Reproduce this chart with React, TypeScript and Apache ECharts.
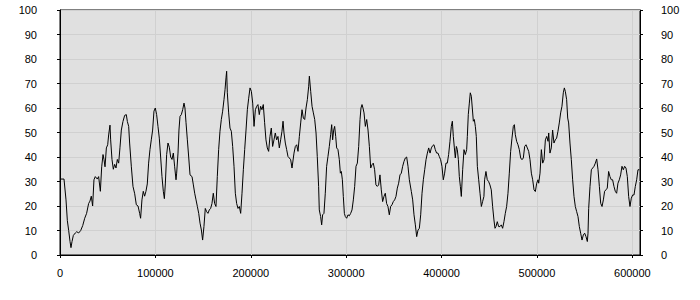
import React, { useEffect, useRef } from "react";
import * as echarts from "echarts";

// Sample positions (x) and values (y)
const xs: number[] = [
  0, 4200, 6300, 7700, 9100, 10500, 11500, 12600, 14000, 16100, 17500, 19600, 21700, 23800, 25900, 27900,
  30000, 31400, 32800, 34200, 35600, 37000, 39100, 40500, 42300, 43700, 45100, 46100, 47200, 48600, 50000,
  51000, 52400, 53100, 54500, 55900, 57300, 58700, 60100, 61500, 62900, 64300, 66000, 67800, 69500, 70600,
  72000, 73000, 74800, 76500, 78300, 80000, 81800, 83500, 84500, 85900, 87300, 88700, 90100, 91500, 92900,
  94300, 95700, 97100, 98500, 99900, 101300, 102700, 104100, 105500, 106900, 108300, 109400, 110400, 111800,
  113200, 114600, 116000, 117400, 118800, 120200, 121600,
  122300, 123700, 124700, 125800, 127200, 128600, 130000, 131000, 132100, 133500, 134900, 136300, 138400,
  139800, 141200, 142600, 144000, 145400, 146800, 148200, 149500, 150900, 152300, 153700, 155100, 156500,
  157900, 159300, 160700, 162100, 163500, 164900, 166300, 167700, 169100, 170500, 171900, 173000, 174000,
  174700, 175400, 176800, 178200, 179600, 181000, 182400, 183800, 185200, 186600, 188000, 189400, 190800,
  192200, 193600, 195000, 196400, 197800, 199200, 200600, 202000, 203400, 204800, 206200, 207500, 208900,
  210300, 211700, 213100, 214500, 215900, 217300, 218700, 220100, 221500, 222900, 224300, 225700, 227100,
  228500, 229900, 231300, 232700, 233800, 234800, 236200, 237600, 239000, 240400, 241800, 243200,
  245300, 246700, 248100, 249500, 250900, 252300, 253700, 255100, 256500, 257900, 259300, 260700, 261400,
  262800, 264200, 265600, 267000, 268400, 269700, 271100, 271800, 273200, 274300, 275300, 276700, 278100,
  279500, 280900, 282300, 283700, 284800, 285800, 286900, 287900, 289000, 290000, 291400, 292800, 293900,
  294900, 296000, 297000, 298100, 299100, 300500, 301900, 303300, 304700, 306100, 307500, 308900, 310300,
  311700, 313100, 314500, 315500, 316600, 317600, 318700, 320100, 321500, 322900, 324300, 325700, 327000,
  328400, 329800, 331200, 332600, 334000, 335400, 336800, 338200, 339600, 341000, 342400, 343800, 345200,
  346600, 348000, 349400, 350800, 352200, 353600, 355000, 356400, 357800, 359200, 360600, 362000, 363400,
  364800, 366200,
  368300, 369700, 371100, 372500, 373900, 375300, 376700, 378100, 379500, 380900, 382300, 383700, 385100,
  386500, 387900, 389300, 390600, 392000, 393400, 394800, 396200, 397600, 399000, 400400, 401800, 403200,
  404600, 406000, 407400, 408800, 410200, 411300, 412300, 413400, 414400, 415500, 416500, 417600, 418600,
  419700, 420700, 422100, 423500, 424900, 426300, 427000, 428000, 429100, 430100, 431200, 432200, 433300,
  434300, 435400, 436400, 437500, 438900, 440300, 441700, 443000, 444400, 445100, 446500, 447900, 449300,
  450700, 452100, 453500, 454900, 456000, 457000, 458400, 459800, 461200, 462600, 464000, 465400, 466800,
  468200, 469600, 471000, 472400, 473800, 475200, 476300, 477300, 478700, 480100, 481500, 482900, 484300,
  485700, 487100, 488500,
  489900, 491300, 492700, 494100, 495500, 496900, 498300, 499700, 501100, 501800, 503200, 504600, 506000,
  507400, 508800, 510200, 511600, 512300, 513600, 515000, 516400, 517800, 519200, 520600, 522000, 523400,
  524800, 526200, 527600, 528700, 529700, 531100, 532200, 533200, 534600, 536000, 537400, 538800, 540200,
  541600, 543000, 544400, 545800, 547200, 548600, 550000, 551400, 552800, 553500, 554200, 555600, 557000,
  558400, 559800, 561200, 562600, 564000, 565400, 566800, 568200, 569600, 570900, 572300, 573700, 575100,
  576500, 577900, 579300, 580700, 582100, 583500, 584900, 586300, 587700, 589100, 590500, 591900, 593300,
  594700, 596100, 597500, 598900, 600300, 601700, 603100, 604500, 605900, 607300,
];

const ys: number[] = [
  31, 31, 22.5, 14, 10, 5.5, 3, 5.5, 8, 9, 9.5, 9, 10, 12, 15, 17,
  21, 22, 24, 20, 30.7, 32, 31, 32, 26, 36, 41, 39, 36, 43.7, 45,
  49, 53, 47, 39, 35, 37, 35.5, 39, 37.5, 44, 51, 54.5, 57, 57.3, 54.5,
  52.5, 45.7, 36, 28, 25, 20.5, 20, 17, 15, 22.5, 26, 24, 26, 29, 37.5,
  43, 47, 51, 58.7, 60, 57.3, 52.5, 47.7, 40, 32, 26, 23, 29, 41,
  45.7, 44, 40, 39, 41.6, 36, 30.7,
  33.4, 41.6, 51, 56.6, 57.3, 59.3, 62, 60, 54, 47, 40, 32.7, 32,
  28.6, 25.2, 22.5, 19.8, 17, 13, 10.2, 6.1, 11.6, 19, 17.7, 17, 18.4,
  19, 21, 25.2, 21, 19.8, 32, 43, 50.5, 55.3, 58.7, 63.4, 67.5, 72.3,
  75, 66.2, 58, 51.8, 50.5, 44.3, 36.2, 25.2, 21, 19, 19.8, 17, 25.2,
  34.8, 43, 51, 59.3, 64, 68.2, 66.8, 62, 52.5, 59.3, 60.7, 61.4, 57.3,
  60.7, 59.3, 61.4, 54, 47, 43.7, 42.3, 48.4, 51.8, 44.3, 47, 49.8, 47,
  48.4, 43.7, 47, 50.5, 54.6, 49.8, 45.7, 43, 40.2, 39.6, 38.9, 35.5,
  41.6, 44.3, 45, 42.3, 48.4, 53.9, 59.3, 55.9, 55.3, 60, 63.4, 68.9, 73,
  66.8, 60.7, 58, 55.3, 49.8, 40.2, 28, 18.4, 15.7, 12.3, 16.4, 17, 25.2,
  36.2, 40.2, 44.3, 49.1, 53.2, 47, 51, 52.5, 48.4, 43.7, 43, 38.9, 33.4,
  34.1, 30.7, 23.9, 17, 15.7, 15, 16.4, 16, 17, 18.4, 22.5, 28, 36.2,
  37.5, 44.3, 55.3, 60, 61.4, 60, 58, 52.5, 55.3, 51, 44.3, 35.5, 36.8,
  37.5, 34.8, 28.6, 28, 28.6, 32.7, 26.6, 21.8, 23.9, 25.2, 21, 19.8, 16.4,
  19.8, 20.5, 21.8, 22.5, 23.9, 27.3, 29.3, 32.7, 33.4, 36.2, 38.2, 39.6, 40,
  36.2, 30.7,
  25.9, 22.5, 16.4, 12.3, 7.5, 10.2, 10.9, 16.4, 25.2, 30.7, 34.8, 38.9, 41.6,
  43.7, 41.6, 43.7, 44.6, 45, 43, 41.6, 41.6, 40.2, 38.9, 36.2, 30.7, 33.4,
  37.5, 37.5, 41, 46.4, 52.5, 54.6, 48.4, 43.7, 39.6, 44.3, 43, 38.9, 32,
  28, 23.9, 34.8, 43, 41, 43, 48.4, 57.3, 62, 66.2, 64.8, 60, 54.6,
  55.3, 52.5, 48.4, 36.2, 30.7, 25.2, 19.8, 21.8, 23.9, 30.7, 34.1, 30.7, 30,
  28.6, 26.6, 19.8, 14.3, 10.9, 11.6, 13.6, 11.6, 11.6, 12.3, 10.9, 13.6, 17,
  19.8, 25.2, 33.4, 42.3, 47.7, 52.5, 53.2, 49.1, 46.4, 45, 43, 39.6, 38.9,
  39.6, 44.3, 45,
  43.7, 42.3, 38.9, 33.4, 30.7, 26.6, 25.9, 29.3, 30.7, 29.3, 33.4, 43, 37.5,
  38.9, 47, 48.4, 46.4, 49.8, 41.6, 43.7, 51, 45.7, 47, 47.7, 50.5, 53.9,
  58, 60.7, 66.2, 68.2, 66.8, 63.4, 55.9, 53.9, 45.7, 38.9, 30.7, 23.9, 19.8,
  17.7, 15.7, 11.6, 8.9, 6.1, 8.2, 8.9, 7.5, 5.5, 8.9, 19, 28, 34.8,
  35.5, 36.2, 37.5, 39.2, 34.8, 28, 21.1, 19.8, 22.5, 26, 26.6, 27.3, 34.1,
  32, 30.7, 30.7, 28, 26, 25.2, 29.3, 30.7, 32.7, 36.2, 34.8, 36.2, 35.5,
  32, 23.9, 19.8, 23.2, 24.5, 24.5, 28, 30.7, 34.8, 34.8,
];

const xMax = 608000;
const xInterval = 100000;
const yTicks = { min: 0, max: 100, interval: 10 };

export default function App() {
  const ref = useRef<HTMLDivElement>(null);
  useEffect(() => {
    if (!ref.current) return;
    const chart = echarts.init(ref.current, undefined, { renderer: "svg" });
    const data = xs.map((x, i) => [x, ys[i]]);
    const labelStyle = {
      color: "#000",
      fontFamily: "Liberation Sans",
      fontSize: 11,
    };
    chart.setOption({
      animation: false,
      grid: {
        left: 60,
        right: 60,
        top: 10,
        bottom: 45,
        show: true,
        backgroundColor: "#e0e0e0",
        borderColor: "#000",
        borderWidth: 1,
      },
      xAxis: {
        type: "value",
        min: 0,
        max: xMax,
        interval: xInterval,
        axisLine: { show: true, lineStyle: { color: "#000", width: 1 } },
        axisTick: { show: true, length: 3, lineStyle: { color: "#000" } },
        axisLabel: {
          ...labelStyle,
          margin: 12,
          showMaxLabel: false,
          formatter: (v: number) => (v % xInterval === 0 ? String(v) : ""),
        },
        splitLine: { show: true, lineStyle: { color: "#d0d0d0", width: 1 } },
      },
      yAxis: [
        {
          type: "value",
          position: "left",
          ...yTicks,
          axisLine: { show: true, lineStyle: { color: "#000", width: 1 } },
          axisTick: { show: true, length: 3, lineStyle: { color: "#000" } },
          axisLabel: { ...labelStyle, margin: 23 },
          splitLine: { show: true, lineStyle: { color: "#d0d0d0", width: 1 } },
        },
        {
          type: "value",
          position: "right",
          ...yTicks,
          axisLine: { show: true, lineStyle: { color: "#000", width: 1 } },
          axisTick: { show: true, length: 3, lineStyle: { color: "#000" } },
          axisLabel: { ...labelStyle, margin: 21 },
          splitLine: { show: false },
        },
      ],
      series: [
        {
          type: "line",
          data,
          yAxisIndex: 0,
          showSymbol: false,
          symbol: "none",
          lineStyle: { color: "#000", width: 1 },
          itemStyle: { color: "#000" },
        },
      ],
    });
    return () => chart.dispose();
  }, []);
  return (
    <div
      ref={ref}
      style={{ position: "fixed", left: 0, top: 0, width: 700, height: 300, background: "#fff" }}
    />
  );
}
